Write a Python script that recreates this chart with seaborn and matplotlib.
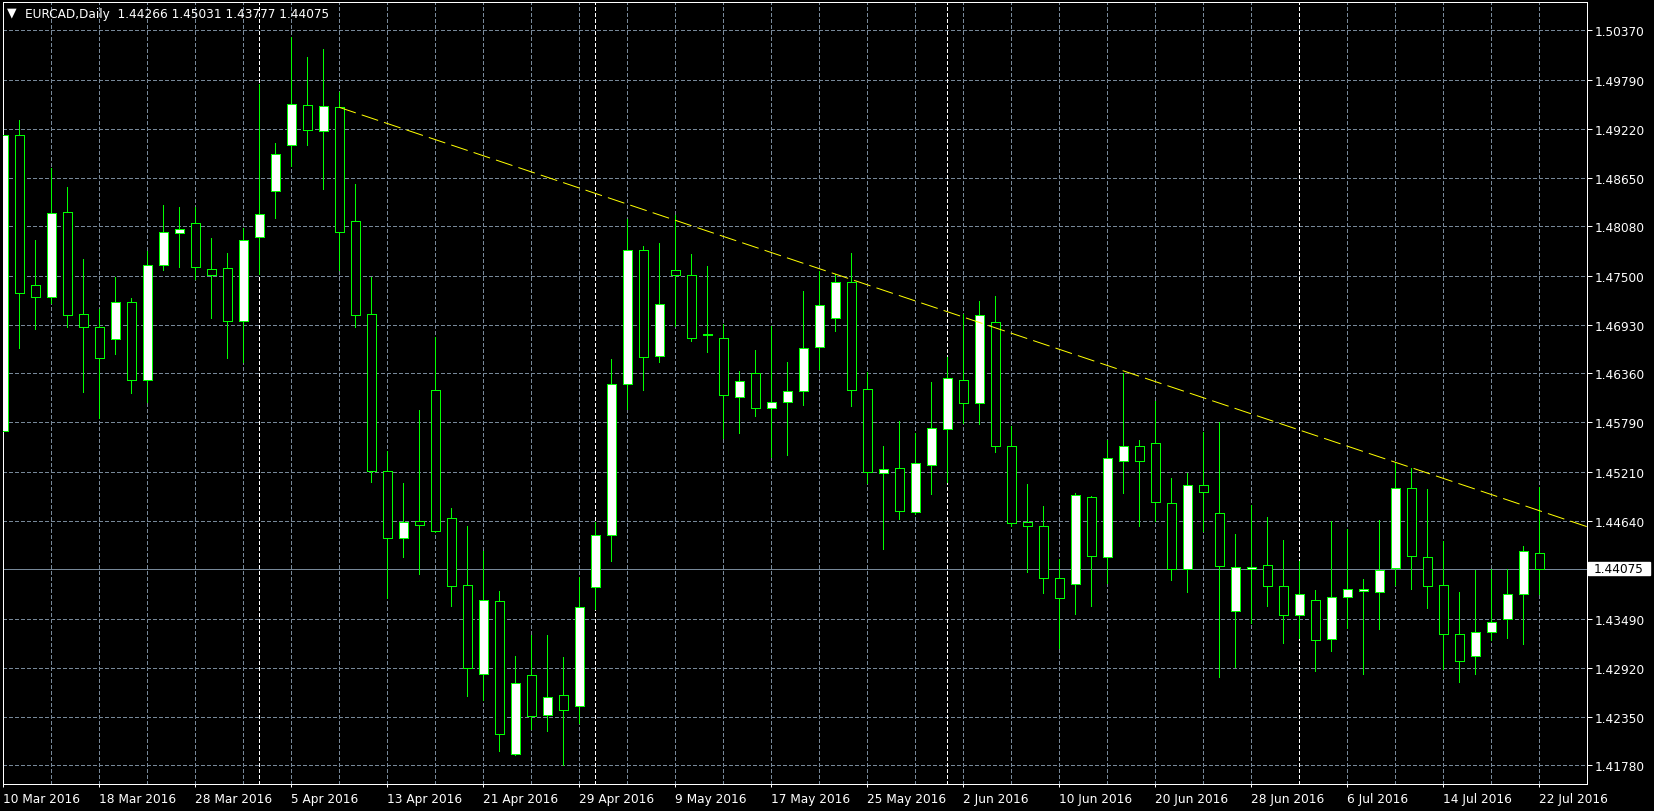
import matplotlib
matplotlib.use("Agg")
import matplotlib.pyplot as plt
from matplotlib.patches import Rectangle
import pandas as pd
import seaborn as sns

# ---------------- data ----------------
symbol = "EURCAD,Daily"
last_ohlc = ["1.44266", "1.45031", "1.43777", "1.44075"]

opens = [1.45684, 1.49150, 1.47390, 1.47250, 1.48243, 1.47051, 1.46899, 1.46759, 1.47191, 1.46280,
         1.47624, 1.47998, 1.48115, 1.47577, 1.47589, 1.46969, 1.47951, 1.48489, 1.49026, 1.49494,
         1.49190, 1.49470, 1.48138, 1.47051, 1.45216, 1.44441, 1.44634, 1.46164, 1.44666, 1.43883,
         1.42853, 1.43695, 1.41909, 1.42831, 1.42370, 1.42598, 1.42477, 1.43861, 1.44468, 1.46233,
         1.47799, 1.46560, 1.47565, 1.47507, 1.46818, 1.46771, 1.46081, 1.46362, 1.45953, 1.46023,
         1.46151, 1.46665, 1.47004, 1.47425, 1.46175, 1.45193, 1.45251, 1.44737, 1.45286, 1.45707,
         1.46280, 1.46011, 1.46958, 1.45508, 1.44620, 1.44573, 1.43966, 1.43896, 1.44912, 1.44211,
         1.45333, 1.45515, 1.45550, 1.44842, 1.44071, 1.45053, 1.44725, 1.43580, 1.44071, 1.44118,
         1.43872, 1.43533, 1.43709, 1.43253, 1.43744, 1.43814, 1.43802, 1.44083, 1.45018, 1.44211,
         1.43884, 1.43311, 1.43054, 1.43335, 1.43487, 1.43779, 1.44266]
highs = [1.50125, 1.49322, 1.47920, 1.48761, 1.48539, 1.47698, 1.47113, 1.47487, 1.47238, 1.47787,
         1.48329, 1.48305, 1.48305, 1.47943, 1.47768, 1.48060, 1.49743, 1.49053, 1.50288, 1.50058,
         1.50152, 1.49653, 1.48574, 1.47487, 1.45449, 1.45082, 1.45932, 1.46781, 1.44786, 1.44576,
         1.44285, 1.43815, 1.43054, 1.43301, 1.43301, 1.43046, 1.43976, 1.44620, 1.46525, 1.48168,
         1.47846, 1.47881, 1.48212, 1.47756, 1.47612, 1.46934, 1.46388, 1.46630, 1.46914, 1.46494,
         1.47323, 1.47554, 1.47519, 1.47768, 1.46373, 1.45512, 1.45801, 1.45660, 1.46256, 1.46549,
         1.47051, 1.47207, 1.47265, 1.45742, 1.45064, 1.44807, 1.44188, 1.44966, 1.44922, 1.45579,
         1.46369, 1.45579, 1.46034, 1.45134, 1.45193, 1.45672, 1.45789, 1.44484, 1.44819, 1.44682,
         1.44413, 1.44164, 1.43826, 1.44636, 1.44539, 1.43954, 1.44644, 1.45322, 1.45251, 1.45009,
         1.44398, 1.43802, 1.44059, 1.44071, 1.44071, 1.44340, 1.45031]
lows = [1.45664, 1.46661, 1.46883, 1.47180, 1.46906, 1.46147, 1.45843, 1.46591, 1.46135, 1.46030,
        1.47572, 1.47607, 1.47464, 1.47011, 1.46544, 1.46490, 1.47522, 1.48180, 1.48788, 1.49033,
        1.48519, 1.47572, 1.46906, 1.45091, 1.43739, 1.44218, 1.44021, 1.44507, 1.43646, 1.42594,
        1.42549, 1.41950, 1.41901, 1.42200, 1.42178, 1.41788, 1.42271, 1.43607, 1.44171, 1.45944,
        1.46170, 1.46497, 1.46918, 1.46743, 1.46614, 1.45609, 1.45667, 1.45866, 1.45383, 1.45410,
        1.45995, 1.46408, 1.46859, 1.45983, 1.45076, 1.44312, 1.44662, 1.44714, 1.44954, 1.45088,
        1.45777, 1.45773, 1.45445, 1.44580, 1.44036, 1.43797, 1.43155, 1.43552, 1.43646, 1.43907,
        1.44966, 1.44580, 1.44639, 1.43942, 1.43802, 1.44515, 1.42812, 1.42926, 1.43440, 1.43646,
        1.43213, 1.43264, 1.42886, 1.43113, 1.43381, 1.42844, 1.43370, 1.43884, 1.43844, 1.43622,
        1.42906, 1.42754, 1.42851, 1.43248, 1.43272, 1.43201, 1.43777]
closes = [1.49150, 1.47297, 1.47250, 1.48232, 1.47040, 1.46899, 1.46537, 1.47191, 1.46280, 1.47624,
          1.48009, 1.48045, 1.47600, 1.47507, 1.46969, 1.47916, 1.48220, 1.48921, 1.49505, 1.49202,
          1.49482, 1.48009, 1.47040, 1.45216, 1.44441, 1.44620, 1.44593, 1.44513, 1.43878, 1.42912,
          1.43707, 1.42141, 1.42746, 1.42352, 1.42584, 1.42432, 1.43636, 1.44468, 1.46233, 1.47799,
          1.46549, 1.47168, 1.47507, 1.46771, 1.46809, 1.46105, 1.46268, 1.45953, 1.46023, 1.46151,
          1.46654, 1.47156, 1.47425, 1.46163, 1.45205, 1.45240, 1.44749, 1.45310, 1.45719, 1.46303,
          1.46011, 1.47040, 1.45508, 1.44609, 1.44573, 1.43966, 1.43732, 1.44936, 1.44223, 1.45368,
          1.45515, 1.45333, 1.44854, 1.44071, 1.45053, 1.44971, 1.44106, 1.44094, 1.44094, 1.43872,
          1.43533, 1.43779, 1.43241, 1.43744, 1.43837, 1.43837, 1.44059, 1.45018, 1.44223, 1.43872,
          1.43311, 1.42996, 1.43335, 1.43458, 1.43779, 1.44281, 1.44075]

date_labels = ["10 Mar 2016", "18 Mar 2016", "28 Mar 2016", "5 Apr 2016", "13 Apr 2016",
               "21 Apr 2016", "29 Apr 2016", "9 May 2016", "17 May 2016", "25 May 2016",
               "2 Jun 2016", "10 Jun 2016", "20 Jun 2016", "28 Jun 2016", "6 Jul 2016",
               "14 Jul 2016", "22 Jul 2016"]
date_positions = [0, 6, 12, 18, 24, 30, 36, 42, 48, 54, 60, 66, 72, 78, 84, 90, 96]
price_ticks = [1.50370, 1.49790, 1.49220, 1.48650, 1.48080, 1.47500, 1.46930, 1.46360,
               1.45790, 1.45210, 1.44640, 1.44070, 1.43490, 1.42920, 1.42350, 1.41780]
month_starts = [16, 37, 59, 81]
trend_x = [21, 87]
trend_y = [1.49470, 1.45322]
current_price = 1.44075

# ---------------- style ----------------
sns.set_theme(style="dark", rc={"axes.facecolor": "black", "figure.facecolor": "black"})
plt.rcParams["font.family"] = ["DejaVu Sans"]
plt.rcParams["lines.scale_dashes"] = False

PX = 0.72                      # one pixel in points at dpi 100
FS = 8.7
LIME = "#00FF00"
GRID = "#778899"
GRID_DASH = (0, (2.4, 2.0))

W, H = 1654, 812
fig = plt.figure(figsize=(W / 100, H / 100), dpi=100, facecolor="black")
left_px, right_px, top_px, bot_px = 2.7, 1586.7, 2.6, 785.3
ax = fig.add_axes([left_px / W, (H - bot_px) / H, (right_px - left_px) / W, (bot_px - top_px) / H])
ax.set_facecolor("black")

df = pd.DataFrame({"x": range(len(opens)), "open": opens, "high": highs, "low": lows, "close": closes})
df["bottom"] = df[["open", "close"]].min(axis=1)
df["height"] = (df["close"] - df["open"]).abs()
df["fill"] = ["white" if c > o else "black" for o, c in zip(df["open"], df["close"])]

x_min, x_max = -0.0375, 98.9625
y_min, y_max = 1.41558, 1.50706

# grid
for k in range(0, 99, 3):
    ax.axvline(k, color=GRID, lw=PX, ls=GRID_DASH, zorder=0.5, antialiased=False)
for p in price_ticks:
    ax.axhline(p, color=GRID, lw=PX, ls=GRID_DASH, zorder=0.5, antialiased=False)
for k in month_starts:
    ax.axvline(k, color="white", lw=PX, ls=GRID_DASH, zorder=0.6, antialiased=False)
ax.axhline(current_price, color=GRID, lw=PX, zorder=0.7, antialiased=False)

# candles
ax.vlines(df["x"], df["low"], df["high"], color=LIME, lw=PX, zorder=2, antialiased=False)
ax.bar(df["x"], df["height"], bottom=df["bottom"], width=0.6, color=df["fill"],
       edgecolor=LIME, linewidth=PX, zorder=3, antialiased=False)

# trend line (ray from first anchor to the right edge)
slope = (trend_y[1] - trend_y[0]) / (trend_x[1] - trend_x[0])
tl = pd.DataFrame({"x": [trend_x[0], x_max], "y": [trend_y[0], trend_y[0] + slope * (x_max - trend_x[0])]})
sns.lineplot(data=tl, x="x", y="y", color="#FFFF00", lw=PX, linestyle=(0, (12.5, 4.5)),
             ax=ax, zorder=4, legend=False)

ax.set_xlim(x_min, x_max)
ax.set_ylim(y_min, y_max)
ax.set_xlabel("")
ax.set_ylabel("")
ax.grid(False)

for s in ax.spines.values():
    s.set_visible(True)
    s.set_color("white")
    s.set_linewidth(PX)

ax.set_xticks(date_positions)
ax.set_xticklabels(date_labels)
for lab in ax.get_xticklabels():
    lab.set_horizontalalignment("left")
ax.tick_params(axis="x", colors="white", length=2.2, width=PX, pad=3.6, labelsize=FS, bottom=True)

ax.yaxis.tick_right()
ax.set_yticks(price_ticks)
ax.set_yticklabels(["" if abs(p - current_price) < 0.0002 else f"{p:.5f}" for p in price_ticks])
ax.tick_params(axis="y", colors="white", length=3.6, width=PX, pad=1.9, labelsize=FS,
               right=True, left=False)

# current price box on the scale
fig.canvas.draw()
yc = ax.transData.transform((0, current_price))[1]
fig.patches.append(Rectangle((1588 / W, (yc - 6.5) / H), 62 / W, 13 / H, transform=fig.transFigure,
                             facecolor="white", edgecolor="white", zorder=10))
fig.text(1594 / W, yc / H, f"{current_price:.5f}", color="black", fontsize=FS,
         ha="left", va="center", zorder=11)

# header
fig.text(12 / W, 1 - 13 / H, "\u25bc", color="white", fontsize=9, ha="center", va="center")
fig.text(25 / W, 1 - 14.5 / H, symbol + "  " + " ".join(last_ohlc), color="white",
         fontsize=FS, ha="left", va="center")

fig.savefig("out.png", dpi=100, facecolor="black")
